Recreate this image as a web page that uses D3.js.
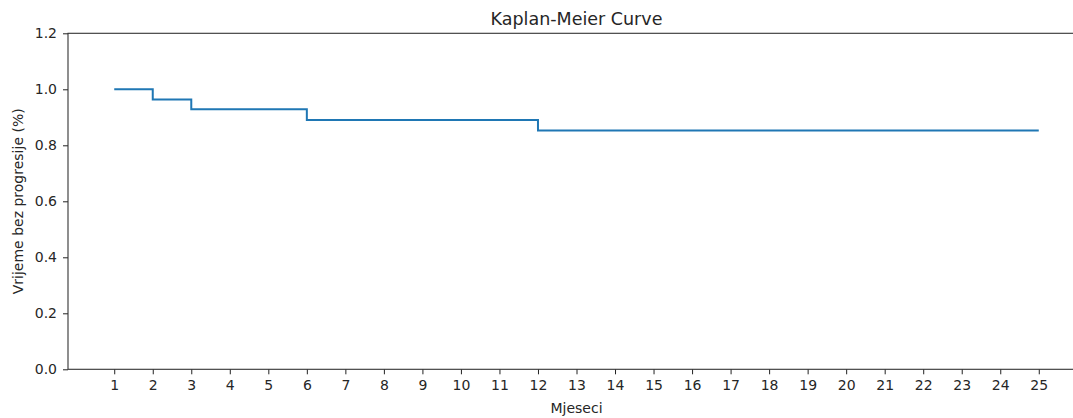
<!DOCTYPE html>
<html><head><meta charset="utf-8">
<script src="https://cdn.jsdelivr.net/npm/d3@7"></script>
<style>body{margin:0;background:#fff;} svg{display:block;}</style>
</head><body>
<svg id="c" width="1073" height="418"></svg>
<script>
const months = [1, 2, 3, 6, 12, 25];
const survival = [1.0, 0.964, 0.929, 0.890, 0.853, 0.853];
const xTicks = d3.range(1, 26);
const yTicks = [0.0, 0.2, 0.4, 0.6, 0.8, 1.0, 1.2];
const chartTitle = "Kaplan-Meier Curve";
const xLabel = "Mjeseci";
const yLabel = "Vrijeme bez progresije (%)";

const svg = d3.select("#c");
const mLeft = 68, mRight = 1085, mTop = 33.3, mBottom = 369.3;
const x = d3.scaleLinear().domain([-0.2, 26.2]).range([mLeft, mRight]);
const y = d3.scaleLinear().domain([0, 1.2]).range([mBottom, mTop]);
const font = "DejaVu Sans, sans-serif";

const xAxis = svg.append("g").attr("transform", `translate(0,${mBottom})`)
  .call(d3.axisBottom(x).tickValues(xTicks).tickSize(5).tickPadding(6).tickFormat(d3.format("d")));
const yAxis = svg.append("g").attr("transform", `translate(${mLeft},0)`)
  .call(d3.axisLeft(y).tickValues(yTicks).tickSize(5).tickPadding(6).tickFormat(d3.format(".1f")));
[xAxis, yAxis].forEach(g => {
  g.select(".domain").remove();
  g.selectAll("line").attr("stroke", "#222").attr("stroke-width", 1);
  g.selectAll("text").attr("font-family", font).attr("font-size", 14).attr("fill", "#262626");
});
svg.append("rect").attr("x", mLeft).attr("y", mTop).attr("width", mRight - mLeft).attr("height", mBottom - mTop)
  .attr("fill", "none").attr("stroke", "#333").attr("stroke-width", 1.1);

const line = d3.line().x((d, i) => x(months[i])).y(d => y(d)).curve(d3.curveStepAfter);
svg.append("path").datum(survival).attr("d", line)
  .attr("fill", "none").attr("stroke", "#1f77b4").attr("stroke-width", 2);

svg.append("text").attr("x", (mLeft + mRight) / 2).attr("y", 25).attr("text-anchor", "middle")
  .attr("font-family", font).attr("font-size", 17.5).attr("fill", "#262626").text(chartTitle);
svg.append("text").attr("x", (mLeft + mRight) / 2).attr("y", 413).attr("text-anchor", "middle")
  .attr("font-family", font).attr("font-size", 14).attr("fill", "#262626").text(xLabel);
svg.append("text").attr("transform", `translate(23,${(mTop + mBottom) / 2}) rotate(-90)`).attr("text-anchor", "middle")
  .attr("font-family", font).attr("font-size", 14).attr("fill", "#262626").text(yLabel);
</script>
</body></html>
